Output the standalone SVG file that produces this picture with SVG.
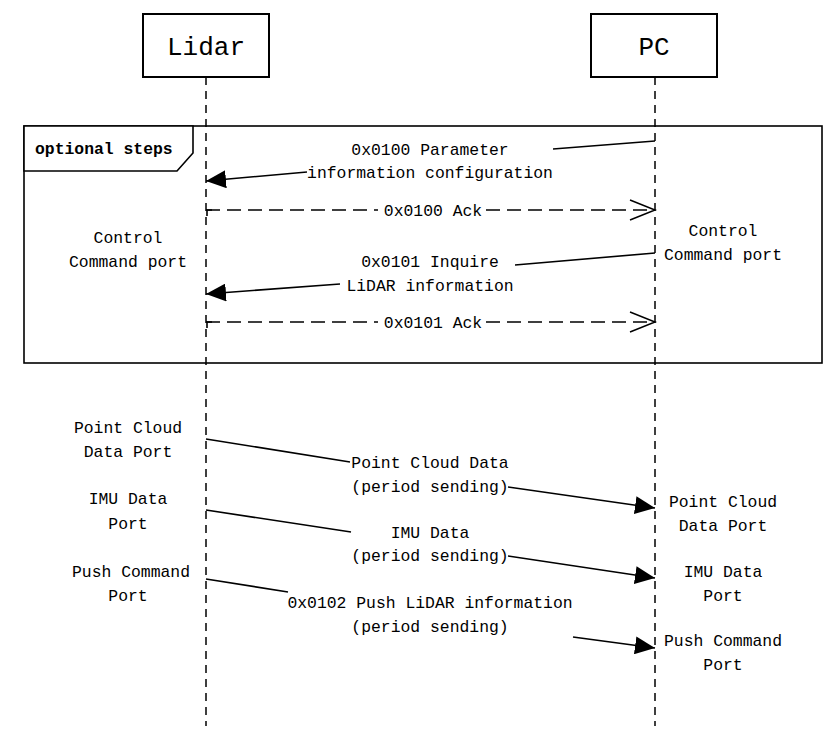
<svg xmlns="http://www.w3.org/2000/svg" width="840" height="741" viewBox="0 0 840 741">
<style>
text{font-family:"Liberation Mono","DejaVu Sans Mono",monospace;font-size:16.4px;fill:#000;text-anchor:middle}
.title{font-size:26px}
.bold{font-weight:bold;text-anchor:start}
.box{fill:#fff;stroke:#000;stroke-width:2}
.life{stroke:#000;stroke-width:1.5;stroke-dasharray:8,6;fill:none}
.msg{stroke:#000;stroke-width:1.6;fill:none}
.ret{stroke:#000;stroke-width:1.3;fill:none;stroke-dasharray:14,7}
.open{stroke:#000;stroke-width:1.5;fill:none}
</style>
<defs>
<marker id="fill" viewBox="0 0 20 18" refX="20" refY="9" markerWidth="20" markerHeight="18" markerUnits="userSpaceOnUse" orient="auto">
<path d="M0,0 L20,9 L0,18 Z" fill="#000"/>
</marker>
</defs>
<rect width="840" height="741" fill="#fff"/>
<g id="frame">
<rect x="24" y="126" width="798" height="237" fill="none" stroke="#000" stroke-width="1.6"/>
<polygon points="24,126 193,126 193,153 177,171 24,171" fill="#fff" stroke="#000" stroke-width="1.6"/>
<text class="bold" x="35" y="154">optional steps</text>
</g>
<g id="lidar">
<line class="life" x1="206" y1="77" x2="206" y2="726"/>
<rect class="box" x="143" y="14" width="126" height="63"/>
<text class="title" x="206" y="55">Lidar</text>
</g>
<g id="pc">
<line class="life" x1="655" y1="77" x2="655" y2="726"/>
<rect class="box" x="591" y="14" width="126" height="63"/>
<text class="title" x="654" y="55">PC</text>
</g>
<g id="labels">
<text x="128" y="243">Control</text>
<text x="128" y="267">Command port</text>
<text x="723" y="236">Control</text>
<text x="723" y="260">Command port</text>
<text x="128" y="433">Point Cloud</text>
<text x="128" y="457">Data Port</text>
<text x="128" y="504">IMU Data</text>
<text x="128" y="529">Port</text>
<text x="131" y="577">Push Command</text>
<text x="128" y="601">Port</text>
<text x="723" y="507">Point Cloud</text>
<text x="723" y="531">Data Port</text>
<text x="723" y="577">IMU Data</text>
<text x="723" y="601">Port</text>
<text x="723" y="646">Push Command</text>
<text x="723" y="670">Port</text>
</g>
<g id="connectors">
<line class="msg" x1="655" y1="141" x2="553" y2="149"/>
<line class="msg" x1="307" y1="172" x2="206" y2="181" marker-end="url(#fill)"/>
<text x="430" y="155">0x0100 Parameter</text>
<text x="430" y="178">information configuration</text>

<polyline class="msg" points="207,216 207,210 212,210"/>
<line class="ret" x1="206" y1="210" x2="378" y2="210"/>
<line class="ret" x1="486" y1="210" x2="654" y2="210"/>
<polyline class="open" points="630,200 655,210 630,220"/>
<text x="433" y="216">0x0100 Ack</text>

<line class="msg" x1="655" y1="253" x2="515" y2="265"/>
<line class="msg" x1="340" y1="284" x2="206" y2="294" marker-end="url(#fill)"/>
<text x="430" y="267">0x0101 Inquire</text>
<text x="430" y="291">LiDAR information</text>

<polyline class="msg" points="207,328 207,322 212,322"/>
<line class="ret" x1="206" y1="322" x2="378" y2="322"/>
<line class="ret" x1="486" y1="322" x2="654" y2="322"/>
<polyline class="open" points="630,312 655,322 630,332"/>
<text x="433" y="328">0x0101 Ack</text>

<line class="msg" x1="206" y1="439" x2="350" y2="462"/>
<line class="msg" x1="508" y1="487" x2="655" y2="508" marker-end="url(#fill)"/>
<text x="430" y="468">Point Cloud Data</text>
<text x="430" y="492">(period sending)</text>

<line class="msg" x1="206" y1="510" x2="351" y2="532"/>
<line class="msg" x1="508" y1="556" x2="655" y2="578" marker-end="url(#fill)"/>
<text x="430" y="538">IMU Data</text>
<text x="430" y="561">(period sending)</text>

<line class="msg" x1="206" y1="579" x2="288" y2="592"/>
<line class="msg" x1="573" y1="637" x2="655" y2="648" marker-end="url(#fill)"/>
<text x="430" y="608">0x0102 Push LiDAR information</text>
<text x="430" y="632">(period sending)</text>
</g>
</svg>
